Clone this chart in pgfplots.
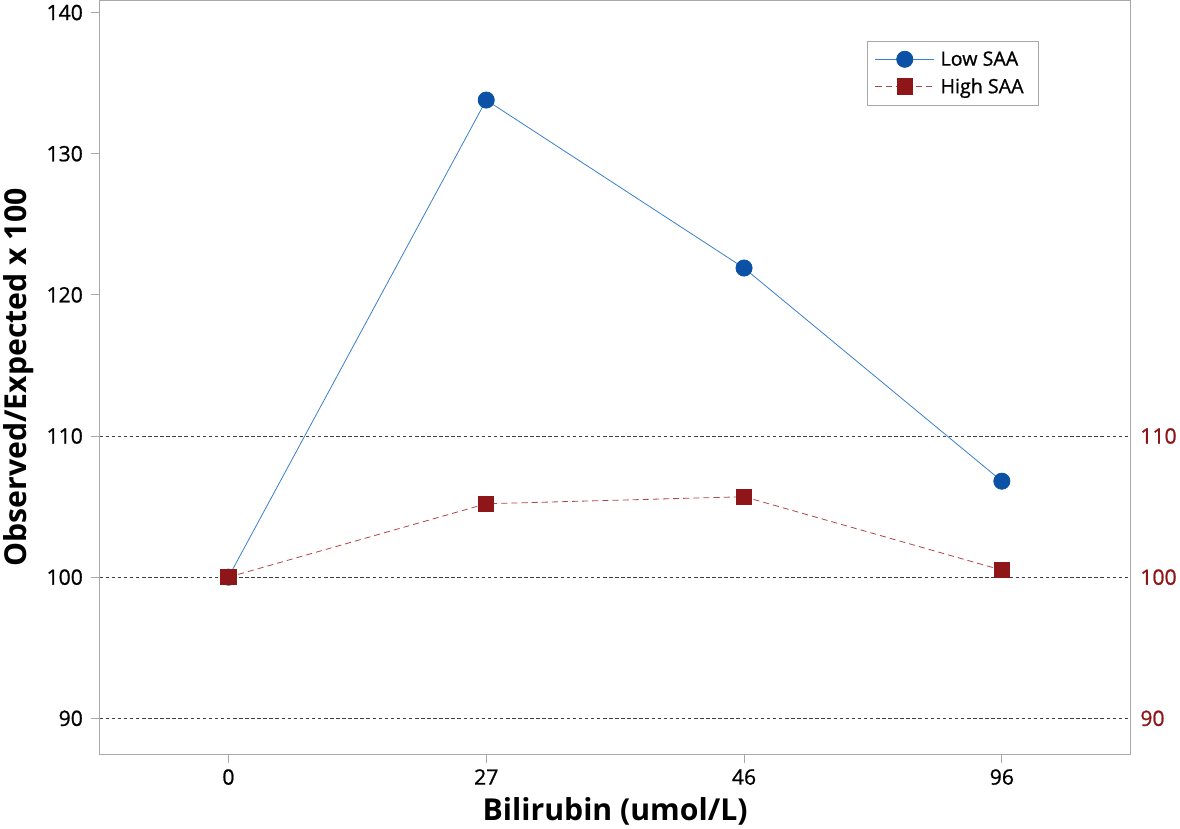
\documentclass[border=0pt]{standalone}
\usepackage{fontspec}
\setmainfont{Open Sans}
\newfontfamily\semib{Open Sans}[FakeBold=0.9]
\usepackage{pgfplots}
\pgfplotsset{compat=1.18}
\definecolor{lowblue}{HTML}{0B52A6}
\definecolor{lowline}{HTML}{3C7FCC}
\definecolor{highred}{HTML}{8E1518}
\definecolor{highline}{HTML}{B0454A}
\definecolor{framegrey}{HTML}{A8A8A8}
\pgfplotsset{
  base axis/.style={
    scale only axis,
    width=1020bp, height=746bp,
    xmin=-0.5, xmax=3.5, ymin=87.43, ymax=140.86,
    /pgf/number format/assume math mode=true,
    tick label style={font=\semib\fontsize{21}{25}\selectfont},
  }
}
\begin{document}
\begin{tikzpicture}
% grid lines and red labels on the right
\begin{axis}[
  base axis,
  name=grid,
  axis x line=none,
  axis y line*=right,
  y axis line style={draw=none},
  ytick={90,100,110},
  major tick length=0pt,
  ymajorgrids,
  grid style={black!75, dash pattern=on 3.5bp off 2.5bp, line width=0.7pt},
  yticklabel style={text=highred, xshift=6bp},
]
\end{axis}
\begin{axis}[
  base axis,
  at={(grid.south west)},
  xtick={0,1,2,3},
  xticklabels={0,27,46,96},
  ytick={90,100,...,140},
  axis line style={framegrey, line width=0.8pt},
  tick style={framegrey, line width=0.8pt},
  tick align=outside,
  major tick length=8bp,
  xtick pos=bottom, ytick pos=left,
  yticklabel style={xshift=-5bp},
  xticklabel style={yshift=-3bp},
  xlabel={\bfseries Bilirubin (umol/L)},
  ylabel={\bfseries Observed/Expected x 100},
  label style={font=\fontsize{30}{34}\selectfont},
  xlabel style={yshift=-6bp},
  ylabel style={yshift=6bp},
  legend style={at={(0.91,0.946)}, anchor=north east, draw=framegrey,
    font=\semib\fontsize{19.5}{23}\selectfont, row sep=7bp,
    inner xsep=8bp, inner ysep=8bp,
    nodes={inner xsep=6bp}},
  legend cell align=left,
  legend image code/.code={
    \draw[mark repeat=2, mark phase=2, #1] plot coordinates {(0bp,0bp) (29bp,0bp) (58bp,0bp)};
  },
]
\addplot[lowline, line width=0.8pt, mark=*, mark size=8bp,
  mark options={solid, fill=lowblue, draw=lowblue}] coordinates {
  (0,100) (1,133.8) (2,121.9) (3,106.8)
};
\addlegendentry{Low SAA}
\addplot[highline, line width=0.8pt, dash pattern=on 6bp off 4bp, mark=square*, mark size=7.5bp,
  mark options={solid, fill=highred, draw=highred}] coordinates {
  (0,100) (1,105.2) (2,105.7) (3,100.5)
};
\addlegendentry{High SAA}
\end{axis}
\end{tikzpicture}
\end{document}
